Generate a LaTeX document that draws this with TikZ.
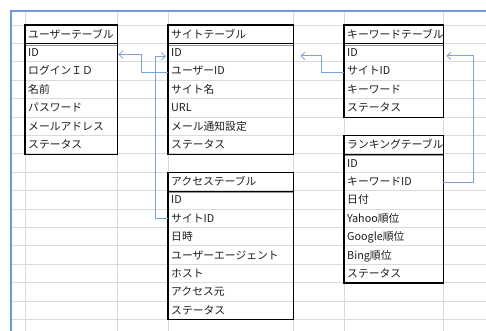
\documentclass[tikz,border=0pt]{standalone}
\usepackage{fontspec}
\setmainfont{Noto Sans CJK JP}
\usetikzlibrary{arrows.meta}
\definecolor{gridgray}{RGB}{218,218,218}
\definecolor{framebl}{RGB}{108,157,214}
\definecolor{linkbl}{RGB}{125,163,214}
\definecolor{sepgray}{RGB}{150,150,150}
\definecolor{txt}{RGB}{30,30,30}
\tikzset{
  cell/.style={anchor=north west, inner xsep=3pt, inner ysep=0pt,
    minimum height=18.4pt, text height=0.88em, text depth=0.12em,
    font=\fontsize{10.8pt}{12pt}\selectfont, align=left, text=txt},
  tbl/.style={draw=black, line width=1.1pt},
  hsep/.style={draw=black, line width=0.8pt},
  hsep2/.style={draw=sepgray, line width=1pt},
  gridline/.style={draw=gridgray, line width=0.75pt},
  link/.style={draw=linkbl, line width=0.8pt, -{Straight Barb[length=4pt,width=7.5pt]}},
}
\begin{document}
\begin{tikzpicture}[x=1pt,y=-1pt]
\fill[white] (0,0) rectangle (486,331);
\useasboundingbox (0,0) rectangle (486,331);
% spreadsheet grid
\foreach \gx in {25,117,168,293,344,443}
  \draw[gridline] (\gx,11) -- (\gx,331);
\foreach \k in {0,...,16}
  \draw[gridline] (11,25+18.4*\k) -- (486,25+18.4*\k);
% frame
\draw[framebl, line width=1.8pt] (11,331) -- (11,11) -- (486,11);

% user table
\begin{scope}
\clip (25,25) rectangle (117,25+7*18.4);
\foreach \t [count=\i from 0] in {ユーザーテーブル,ID,ログインＩＤ,名前,パスワード,メールアドレス,ステータス}
  \node[cell, text width=86pt] (user-\i) at (25,25+18.4*\i) {\t};
\end{scope}
% site table
\begin{scope}
\clip (168,25) rectangle (293,25+7*18.4);
\foreach \t [count=\i from 0] in {サイトテーブル,ID,ユーザーID,サイト名,URL,メール通知設定,ステータス}
  \node[cell, text width=119pt] (site-\i) at (168,25+18.4*\i) {\t};
\end{scope}
% keyword table
\begin{scope}
\clip (344,25) rectangle (443,25+5*18.4);
\foreach \t [count=\i from 0] in {キーワードテーブル,ID,サイトID,キーワード,ステータス}
  \node[cell, text width=93pt] (kw-\i) at (344,25+18.4*\i) {\t};
\end{scope}
% ranking table
\begin{scope}
\clip (344,135.4) rectangle (443,135.4+8*18.4);
\foreach \t [count=\i from 0] in {ランキングテーブル,ID,キーワードID,日付,Yahoo順位,Google順位,Bing順位,ステータス}
  \node[cell, text width=93pt] (rank-\i) at (344,135.4+18.4*\i) {\t};
\end{scope}
% access table
\begin{scope}
\clip (168,172.2) rectangle (293,172.2+8*18.4);
\foreach \t [count=\i from 0] in {アクセステーブル,ID,サイトID,日時,ユーザーエージェント,ホスト,アクセス元,ステータス}
  \node[cell, text width=119pt] (acc-\i) at (168,172.2+18.4*\i) {\t};
\end{scope}

% outlines and header separators
\foreach \n/\last in {user/6,site/6,kw/4,rank/7,acc/7}{
  \draw[hsep2] ([yshift=-1.3pt]\n-0.south west) -- ([yshift=-1.3pt]\n-0.south east);
  \draw[hsep] (\n-0.south west) -- (\n-0.south east);
  \draw[tbl] (\n-0.north west) rectangle (\n-\last.south east);
}

% connectors
\draw[link] ([yshift=-1.3pt]site-2.west) -- ++(-26.3,0) |- ([xshift=1pt,yshift=-1.7pt]user-1.east);
\draw[link] (acc-2.west) -- ++(-13,0) |- ([xshift=-2pt,yshift=-3.4pt]site-1.west);
\draw[link] ([yshift=-1.3pt]kw-2.west) -- ++(-22.3,0) |- ([xshift=7pt,yshift=-3.1pt]site-1.east);
\draw[link] ([yshift=-0.9pt]rank-2.east) -- ++(30.3,0) |- ([xshift=3pt,yshift=-3.1pt]kw-1.east);
\end{tikzpicture}
\end{document}
